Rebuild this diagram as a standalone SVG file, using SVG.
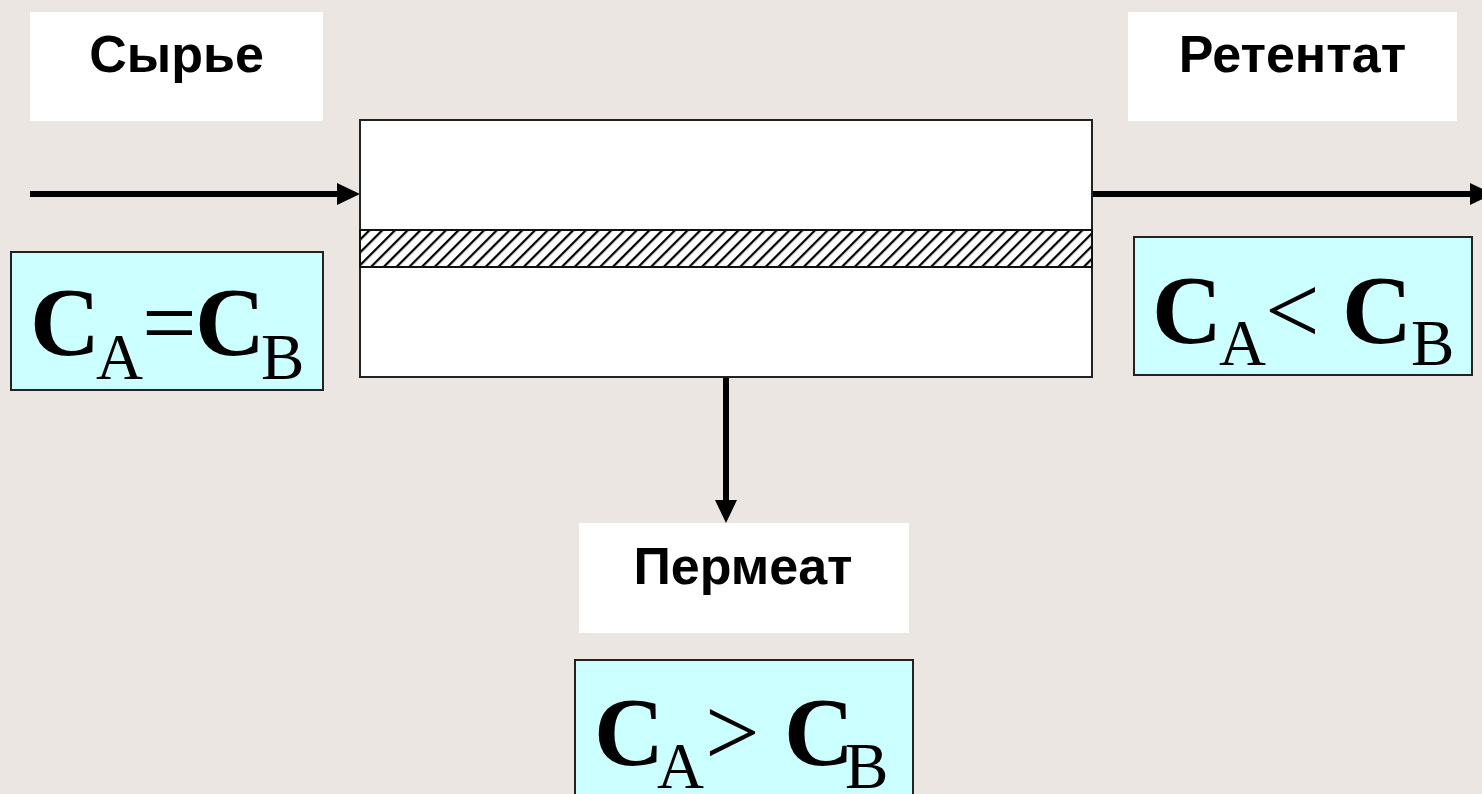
<svg xmlns="http://www.w3.org/2000/svg" width="1482" height="794" viewBox="0 0 1482 794">
<style>
.lbl{fill:#fff}
.lt{font-family:"Liberation Sans",Arial,sans-serif;font-weight:bold;font-size:52px;fill:#000;text-anchor:middle}
.cbox{fill:#CCFFFF;stroke:#222;stroke-width:2}
.f{font-family:"Liberation Serif","Times New Roman",serif;fill:#000}
.big{font-size:97px;font-weight:bold}
.op{font-size:97px}
.sub{font-size:65px}
.conn{stroke:#000;stroke-width:6;fill:none}
</style>
<defs>
<pattern id="hatch" patternUnits="userSpaceOnUse" width="9" height="9" patternTransform="rotate(45)">
<rect width="9" height="9" fill="#fff"/>
<line x1="0" y1="0" x2="0" y2="9" stroke="#000" stroke-width="4.5"/>
</pattern>
<marker id="ah" markerUnits="userSpaceOnUse" markerWidth="24" markerHeight="24" refX="0" refY="11" orient="auto" overflow="visible">
<path d="M0,0 L23,11 L0,22 Z" fill="#000"/>
</marker>
</defs>
<rect width="1482" height="794" fill="#EBE6E2"/>

<g id="connectors">
<line class="conn" x1="30" y1="194" x2="337" y2="194" marker-end="url(#ah)"/>
<line class="conn" x1="1092" y1="194" x2="1470" y2="194" marker-end="url(#ah)"/>
<line class="conn" x1="726" y1="377" x2="726" y2="500" marker-end="url(#ah)"/>
</g>

<g id="membrane-module">
<rect x="360" y="120" width="732" height="257" fill="#fff" stroke="#222" stroke-width="2"/>
<rect x="360" y="230" width="732" height="37" fill="url(#hatch)" stroke="#111" stroke-width="2"/>
</g>

<g id="feed-label">
<rect class="lbl" x="30" y="12" width="293" height="109"/>
<text class="lt" x="176.5" y="72">Сырье</text>
</g>

<g id="retentate-label">
<rect class="lbl" x="1128" y="12" width="329" height="109"/>
<text class="lt" x="1292.5" y="72">Ретентат</text>
</g>

<g id="permeate-label">
<rect class="lbl" x="579" y="523" width="330" height="110"/>
<text class="lt" x="743" y="584">Пермеат</text>
</g>

<g id="feed-conc">
<rect class="cbox" x="11" y="252" width="312" height="138"/>
<text class="f"><tspan class="big" x="30" y="355">C</tspan><tspan class="sub" x="96" y="379">A</tspan><tspan class="op" x="142" y="355">=</tspan><tspan class="big" x="195" y="355">C</tspan><tspan class="sub" x="261" y="379">B</tspan></text>
</g>

<g id="retentate-conc">
<rect class="cbox" x="1134" y="237" width="338" height="138"/>
<text class="f"><tspan class="big" x="1152" y="343">C</tspan><tspan class="sub" x="1219" y="365">A</tspan><tspan class="op" x="1265" y="343">&lt;</tspan><tspan class="big" x="1342" y="343">C</tspan><tspan class="sub" x="1411" y="365">B</tspan></text>
</g>

<g id="permeate-conc">
<rect class="cbox" x="575" y="660" width="338" height="145"/>
<text class="f"><tspan class="big" x="594" y="765">C</tspan><tspan class="sub" x="657" y="788">A</tspan><tspan class="op" x="705" y="765">&gt;</tspan><tspan class="big" x="784" y="765">C</tspan><tspan class="sub" x="845" y="788">B</tspan></text>
</g>
</svg>
